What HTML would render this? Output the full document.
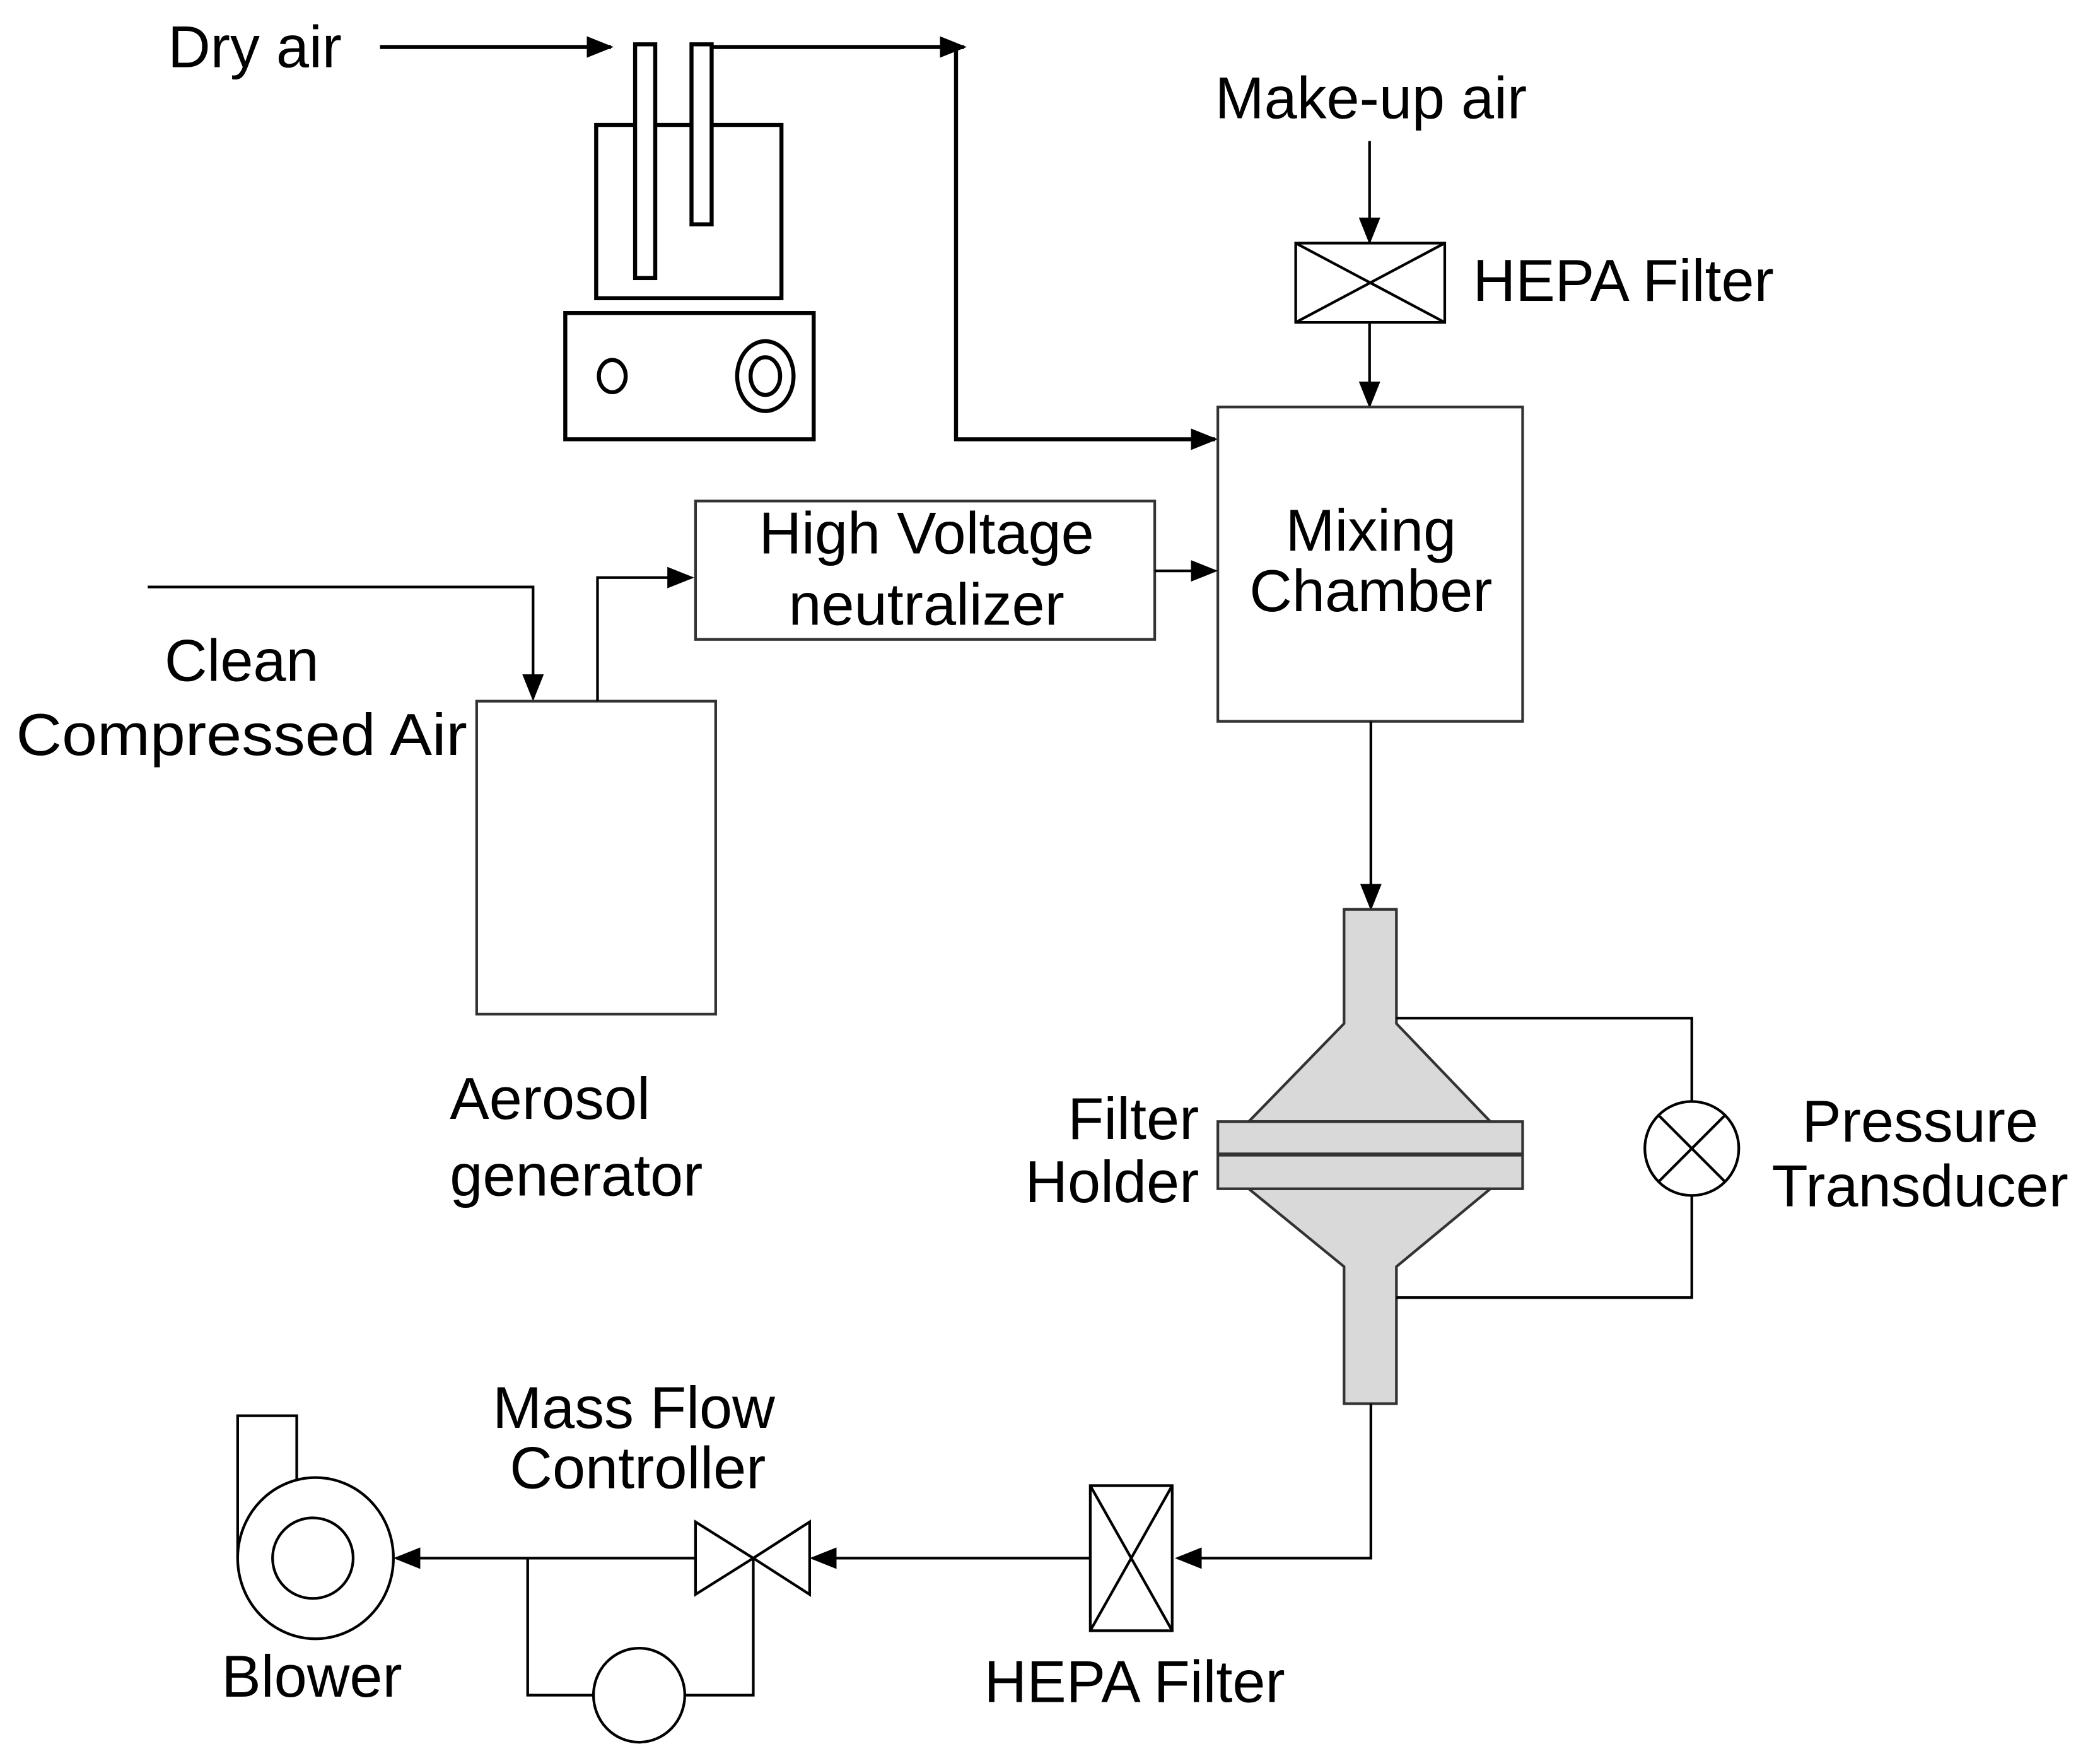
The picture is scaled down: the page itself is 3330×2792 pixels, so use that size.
<!DOCTYPE html>
<html><head><style>html,body{margin:0;padding:0;background:#fff}svg{display:block}</style></head><body>
<svg width="3330" height="2792" viewBox="0 0 1564 1311" preserveAspectRatio="none" xmlns="http://www.w3.org/2000/svg">
<defs>
<marker id="b" markerWidth="20" markerHeight="20" refX="18" refY="10" orient="auto" markerUnits="userSpaceOnUse" viewBox="0 0 20 20"><path d="M0,2 L20,10 L0,18 Z" fill="#000"/></marker></defs>
<g font-family="Liberation Sans, sans-serif" font-size="44" fill="#000">
<text x="125" y="50">Dry air</text>
<text x="1021" y="88" text-anchor="middle">Make-up air</text>
<text x="1097" y="224">HEPA Filter</text>
<text x="1021" y="410" text-anchor="middle">Mixing</text>
<text x="1021" y="455" text-anchor="middle">Chamber</text>
<text x="690" y="412" text-anchor="middle">High Voltage</text>
<text x="690" y="465" text-anchor="middle">neutralizer</text>
<text x="180" y="507" text-anchor="middle">Clean</text>
<text x="12" y="562" textLength="336" lengthAdjust="spacingAndGlyphs">Compressed Air</text>
<text x="335" y="833">Aerosol</text>
<text x="335" y="890">generator</text>
<text x="893" y="848" text-anchor="end">Filter</text>
<text x="893" y="895" text-anchor="end">Holder</text>
<text x="1430" y="850" text-anchor="middle">Pressure</text>
<text x="1430" y="898" text-anchor="middle">Transducer</text>
<text x="472" y="1063" text-anchor="middle">Mass Flow</text>
<text x="475" y="1108" text-anchor="middle">Controller</text>
<text x="165" y="1263">Blower</text>
<text x="845" y="1267" text-anchor="middle">HEPA Filter</text>
</g>
<g fill="none" stroke="#000" stroke-width="3">
<line x1="283" y1="35" x2="455" y2="35" marker-end="url(#b)"/>
<path d="M473,93 H444 V222 H582 V93 H530 M515,93 H488"/>
<rect x="473" y="33" width="15" height="174" fill="#fff"/>
<rect x="515" y="33" width="15" height="134" fill="#fff"/>
<path d="M530,35 H718" marker-end="url(#b)"/>
<path d="M712,35 V327 H905" marker-end="url(#b)"/>
<rect x="421" y="233" width="185" height="94"/>
<ellipse cx="456" cy="280" rx="10" ry="12"/>
<ellipse cx="570" cy="280" rx="21" ry="26"/>
<ellipse cx="570" cy="280" rx="11" ry="14"/>
</g>
<g fill="none" stroke="#000" stroke-width="2">
<line x1="1020" y1="105" x2="1020" y2="180" marker-end="url(#b)"/>
<rect x="965" y="181" width="111" height="59"/>
<path d="M965,181 L1076,240 M1076,181 L965,240"/>
<line x1="1020" y1="240" x2="1020" y2="302" marker-end="url(#b)"/>
<rect x="907" y="303" width="227" height="234" stroke="#333"/>
<rect x="518" y="373" width="342" height="103" stroke="#333"/>
<line x1="860" y1="425" x2="905" y2="425" marker-end="url(#b)"/>
<path d="M110,437 H397 V520" marker-end="url(#b)"/>
<rect x="355" y="522" width="178" height="233" stroke="#333"/>
<path d="M445,522 V430 H515" marker-end="url(#b)"/>
<line x1="1021" y1="537" x2="1021" y2="676" marker-end="url(#b)"/>
<g fill="#d9d9d9" stroke="#333">
<path d="M1001,677 H1040 V762 L1110,835 H930 L1001,762 Z"/>
<path d="M930,885 H1110 L1040,943 V1045 H1001 V943 Z"/>
<rect x="907" y="835" width="227" height="24"/>
<rect x="907" y="860" width="227" height="25"/>
</g>
<path d="M1040,758 H1260 V820 M1260,890 V966 H1040"/>
<circle cx="1260" cy="855" r="35"/>
<path d="M1235,830 L1285,880 M1285,830 L1235,880"/>
<path d="M1021,1045 V1160 H877" marker-end="url(#b)"/>
<rect x="812" y="1106" width="61" height="108"/>
<path d="M812,1106 L873,1214 M873,1106 L812,1214"/>
<line x1="812" y1="1160" x2="605" y2="1160" marker-end="url(#b)"/>
<path d="M518,1133 L561,1160 L518,1187 Z M603,1133 L561,1160 L603,1187 Z"/>
<line x1="518" y1="1160" x2="295" y2="1160" marker-end="url(#b)"/>
<path d="M393,1160 V1262 H442 M510,1262 H561 V1160"/>
<ellipse cx="476" cy="1262" rx="34" ry="35"/>
<path d="M177,1160 V1054 H221 V1102"/>
<ellipse cx="235" cy="1160" rx="58" ry="60"/>
<circle cx="233" cy="1160" r="30"/>
</g>
</svg>
</body></html>
